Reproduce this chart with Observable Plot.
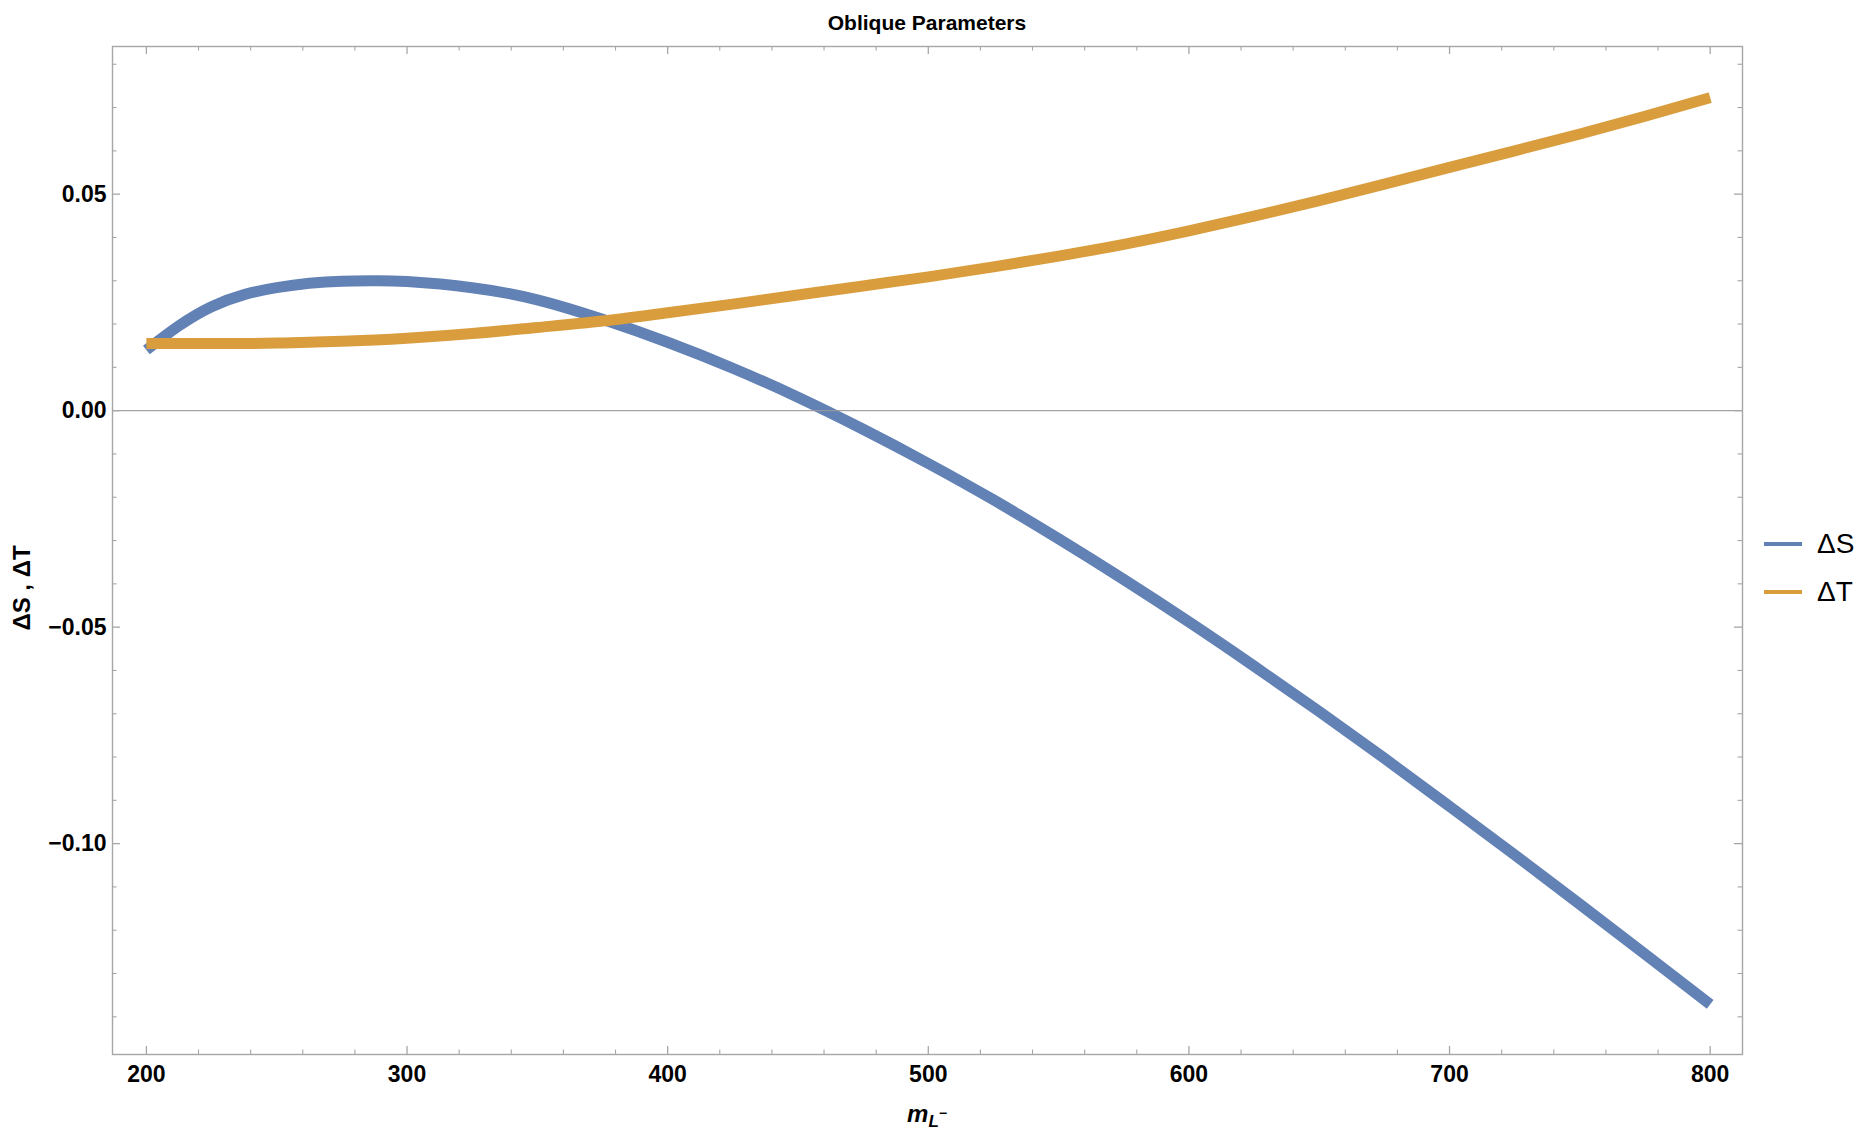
<!DOCTYPE html>
<html>
<head>
<meta charset="utf-8">
<script src="https://cdn.jsdelivr.net/npm/d3@7"></script>
<script src="https://cdn.jsdelivr.net/npm/@observablehq/plot@0.6"></script>
<style>
  html, body { margin: 0; padding: 0; background: #fff; }
  #wrap { position: relative; width: 1872px; height: 1141px; font-family: "Liberation Sans", Arial, Helvetica, sans-serif; }
  #wrap svg { position: absolute; left: 0; top: 0; }
  .title { position: absolute; left: 112px; width: 1630px; top: 11px; text-align: center; font-weight: bold; font-size: 21px; color: #000; }
  .xlabel { position: absolute; left: 112px; width: 1630px; top: 1100px; text-align: center; font-weight: bold; font-style: italic; font-size: 24px; color: #000; }
  .ylabel { position: absolute; left: 22px; top: 588px; transform: translate(-50%, -50%) rotate(-90deg); font-weight: bold; font-size: 24px; white-space: nowrap; color: #000; }
  .legend { position: absolute; left: 1764px; top: 520px; font-size: 28px; color: #000; }
  .legend .row { display: flex; align-items: center; height: 48px; }
  .legend .sw { width: 38px; height: 4px; margin-right: 15px; }
</style>
</head>
<body>
<div id="wrap"></div>
<script>
// ---- data ----
const titleText = "Oblique Parameters";
const seriesNames = ["ΔS", "ΔT"];
const seriesColors = ["#6281b4", "#d99d3d"];
const mL = [200, 212.5, 225, 237.5, 250, 262.5, 275, 287.5, 300, 325, 350, 375, 400, 425, 450, 475, 500, 525, 550, 575, 600, 625, 650, 675, 700, 725, 750, 775, 800];
const dS = [0.0140, 0.0196, 0.0240, 0.0268, 0.0284, 0.0294, 0.0299, 0.0300, 0.0298, 0.0284, 0.0256, 0.0211, 0.0158, 0.0098, 0.0031, -0.0043, -0.0122, -0.0206, -0.0296, -0.0390, -0.0488, -0.0590, -0.0695, -0.0803, -0.0914, -0.1026, -0.1140, -0.1255, -0.1371];
const dT = [0.0155, 0.0155, 0.0155, 0.0155, 0.0156, 0.0158, 0.0160, 0.0163, 0.0167, 0.0178, 0.0192, 0.0207, 0.0226, 0.0246, 0.0267, 0.0288, 0.0309, 0.0332, 0.0357, 0.0384, 0.0415, 0.0449, 0.0485, 0.0523, 0.0562, 0.0600, 0.0639, 0.0680, 0.0723];
const xMajor = [200, 300, 400, 500, 600, 700, 800];
const xMinor = [220, 240, 260, 280, 320, 340, 360, 380, 420, 440, 460, 480, 520, 540, 560, 580, 620, 640, 660, 680, 720, 740, 760, 780];
const yMajor = [-0.10, -0.05, 0.00, 0.05];
const yMinor = [-0.14, -0.13, -0.12, -0.11, -0.09, -0.08, -0.07, -0.06, -0.04, -0.03, -0.02, -0.01, 0.01, 0.02, 0.03, 0.04, 0.06, 0.07, 0.08];
const xDomain = [187, 812.4];
const yDomain = [-0.1487, 0.0841];

// ---- build ----
const rowsS = mL.map((x, i) => ({x, y: dS[i]}));
const rowsT = mL.map((x, i) => ({x, y: dT[i]}));

const W = 1872, H = 1141;
const mLeft = 112, mRight = 130, mTop = 46, mBottom = 87;
const pw = W - mLeft - mRight, ph = H - mTop - mBottom;
const tickColor = "#a6a6a6";
const major = 8, minor = 4.5;

const chart = Plot.plot({
  width: W, height: H,
  marginLeft: mLeft, marginRight: mRight, marginTop: mTop, marginBottom: mBottom,
  style: {fontFamily: "'Liberation Sans', Arial, Helvetica, sans-serif", fontSize: "23px", fontWeight: "bold", color: "#000", background: "transparent"},
  x: {domain: xDomain},
  y: {domain: yDomain},
  marks: [
    Plot.line(rowsS, {x: "x", y: "y", stroke: seriesColors[0], strokeWidth: 11, strokeLinecap: "butt", curve: "natural"}),
    Plot.line(rowsT, {x: "x", y: "y", stroke: seriesColors[1], strokeWidth: 11, strokeLinecap: "butt", curve: "natural"}),
    Plot.ruleY([0], {stroke: "#999", strokeWidth: 1.3, strokeOpacity: 0.9}),
    Plot.frame({stroke: tickColor, strokeWidth: 1.4}),
    // bottom ticks
    Plot.tickX(xMajor, {x: d => d, stroke: tickColor, strokeWidth: 1.3, insetTop: ph - major}),
    Plot.tickX(xMinor, {x: d => d, stroke: tickColor, strokeWidth: 1.1, insetTop: ph - minor}),
    // top ticks
    Plot.tickX(xMajor, {x: d => d, stroke: tickColor, strokeWidth: 1.3, insetBottom: ph - major}),
    Plot.tickX(xMinor, {x: d => d, stroke: tickColor, strokeWidth: 1.1, insetBottom: ph - minor}),
    // left ticks
    Plot.tickY(yMajor, {y: d => d, stroke: tickColor, strokeWidth: 1.3, insetRight: pw - major}),
    Plot.tickY(yMinor, {y: d => d, stroke: tickColor, strokeWidth: 1.1, insetRight: pw - minor}),
    // right ticks
    Plot.tickY(yMajor, {y: d => d, stroke: tickColor, strokeWidth: 1.3, insetLeft: pw - major}),
    Plot.tickY(yMinor, {y: d => d, stroke: tickColor, strokeWidth: 1.1, insetLeft: pw - minor}),
    Plot.axisX(xMajor, {tickSize: 0, tickPadding: 11, label: null, fontSize: 23, fontWeight: "bold"}),
    Plot.axisY(yMajor, {tickSize: 0, tickPadding: 6, label: null, tickFormat: d3.format(".2f"), fontSize: 23, fontWeight: "bold"})
  ]
});

const wrap = document.getElementById("wrap");
wrap.appendChild(chart);

const t = document.createElement("div");
t.className = "title"; t.textContent = titleText; wrap.appendChild(t);

const xl = document.createElement("div");
xl.className = "xlabel";
xl.innerHTML = 'm<sub style="font-size:17px;vertical-align:-5px">L<sup style="font-size:14px;vertical-align:9px">−</sup></sub>';
wrap.appendChild(xl);

const yl = document.createElement("div");
yl.className = "ylabel"; yl.textContent = seriesNames[0] + " , " + seriesNames[1]; wrap.appendChild(yl);

const lg = document.createElement("div");
lg.className = "legend";
seriesNames.forEach((n, i) => {
  const r = document.createElement("div"); r.className = "row";
  const sw = document.createElement("div"); sw.className = "sw"; sw.style.background = seriesColors[i];
  const tx = document.createElement("span"); tx.textContent = n;
  r.appendChild(sw); r.appendChild(tx); lg.appendChild(r);
});
wrap.appendChild(lg);
</script>
</body>
</html>
